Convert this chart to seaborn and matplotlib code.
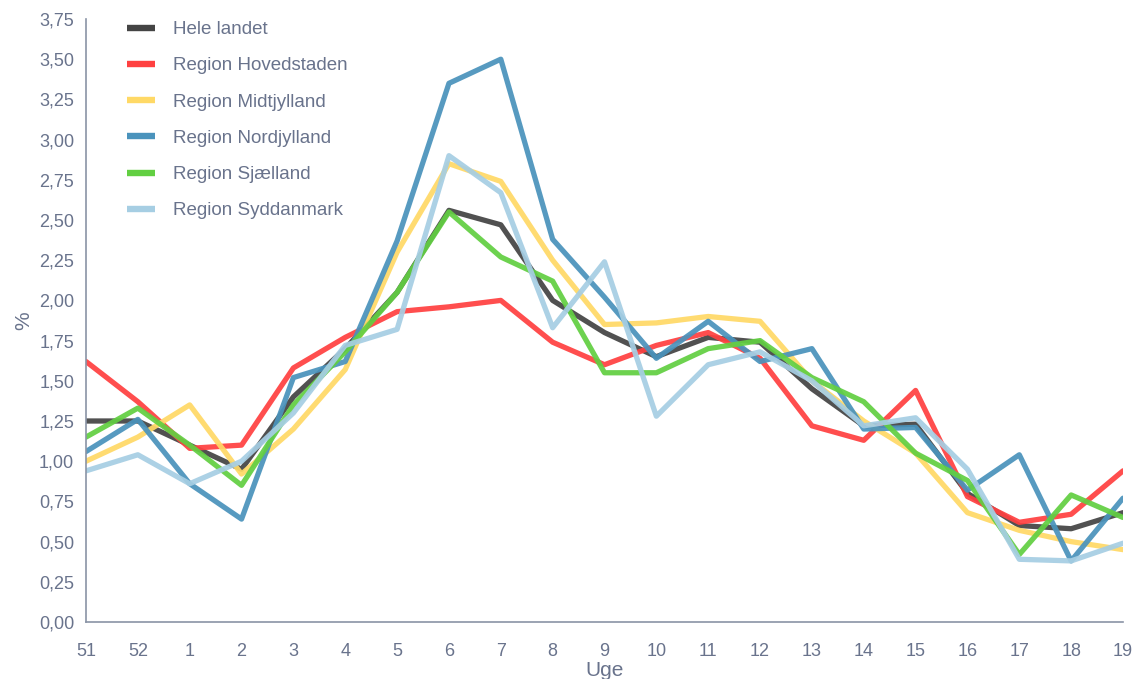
import matplotlib
matplotlib.use("Agg")
import matplotlib.pyplot as plt
import matplotlib.ticker as mticker
import seaborn as sn
import pandas as pd

# Uger (x-aksen)
uger = ["51", "52", "1", "2", "3", "4", "5", "6", "7", "8", "9", "10",
        "11", "12", "13", "14", "15", "16", "17", "18", "19"]

hele_landet = [1.25, 1.25, 1.10, 0.95, 1.40, 1.70, 2.05, 2.56, 2.47, 2.00, 1.80,
               1.65, 1.77, 1.74, 1.45, 1.22, 1.23, 0.80, 0.60, 0.58, 0.68]
hovedstaden = [1.62, 1.37, 1.08, 1.10, 1.58, 1.77, 1.93, 1.96, 2.00, 1.74, 1.60,
               1.72, 1.80, 1.64, 1.22, 1.13, 1.44, 0.78, 0.62, 0.67, 0.94]
midtjylland = [1.00, 1.15, 1.35, 0.92, 1.20, 1.57, 2.30, 2.85, 2.74, 2.25, 1.85,
               1.86, 1.90, 1.87, 1.50, 1.25, 1.05, 0.68, 0.57, 0.50, 0.45]
nordjylland = [1.06, 1.26, 0.86, 0.64, 1.52, 1.62, 2.37, 3.35, 3.50, 2.38, 2.02,
               1.64, 1.87, 1.62, 1.70, 1.20, 1.21, 0.82, 1.04, 0.38, 0.77]
sjaelland = [1.15, 1.33, 1.10, 0.85, 1.35, 1.68, 2.05, 2.55, 2.27, 2.12, 1.55,
             1.55, 1.70, 1.75, 1.52, 1.37, 1.05, 0.88, 0.42, 0.79, 0.65]
syddanmark = [0.94, 1.04, 0.86, 1.00, 1.30, 1.72, 1.82, 2.90, 2.67, 1.83, 2.24,
              1.28, 1.60, 1.68, 1.50, 1.22, 1.27, 0.95, 0.39, 0.38, 0.49]

serier = {
    "Hele landet": hele_landet,
    "Region Hovedstaden": hovedstaden,
    "Region Midtjylland": midtjylland,
    "Region Nordjylland": nordjylland,
    "Region Sjælland": sjaelland,
    "Region Syddanmark": syddanmark,
}
farver = ["#444444", "#ff4040", "#ffd966", "#4a93bc", "#62cf42", "#a6cee3"]

# Long-form dataframe til seaborn
rows = []
for navn, vaerdier in serier.items():
    for i, v in enumerate(vaerdier):
        rows.append({"pos": i, "pct": v, "serie": navn})
df = pd.DataFrame(rows)

sn.set_style("white")
plt.rcParams["font.family"] = ["Liberation Sans", "DejaVu Sans"]
tekstfarve = "#69738c"
aksefarve = "#8a94a6"

fig, ax = plt.subplots(figsize=(11.36, 6.79), dpi=100)
fig.subplots_adjust(left=86 / 1136, right=1123 / 1136, top=1 - 19 / 679, bottom=1 - 622 / 679)

sn.lineplot(data=df, x="pos", y="pct", hue="serie", palette=farver,
            linewidth=3.8, alpha=0.93, ax=ax, legend=True)

ax.set_xlim(0, len(uger) - 1)
ax.set_ylim(0, 3.75)
ax.set_xticks(range(len(uger)))
ax.set_xticklabels(uger)
ax.yaxis.set_major_locator(mticker.MultipleLocator(0.25))
ax.yaxis.set_major_formatter(mticker.FuncFormatter(lambda v, p: f"{v:.2f}".replace(".", ",")))

ax.set_xlabel("Uge", fontsize=15, color=tekstfarve, labelpad=1)
ax.set_ylabel("%", fontsize=15, color=tekstfarve, labelpad=4)
ax.tick_params(axis="both", labelsize=13, colors=tekstfarve, length=5, width=1,
               direction="out", color=aksefarve)
ax.tick_params(axis="x", pad=11, length=4)
for side in ["top", "right"]:
    ax.spines[side].set_visible(False)
for side in ["left", "bottom"]:
    ax.spines[side].set_color(aksefarve)
    ax.spines[side].set_linewidth(1.2)

leg = ax.legend(loc="upper left", bbox_to_anchor=(0.0323, 1.009), frameon=False,
                borderaxespad=0, fontsize=13.5, handlelength=1.5, labelspacing=1.02,
                handletextpad=0.95)
for h in leg.get_lines():
    h.set_linewidth(4.6)
    h.set_solid_capstyle("butt")
    h.set_alpha(1)
for t in leg.get_texts():
    t.set_color(tekstfarve)

plt.savefig("out.png", dpi=100)
